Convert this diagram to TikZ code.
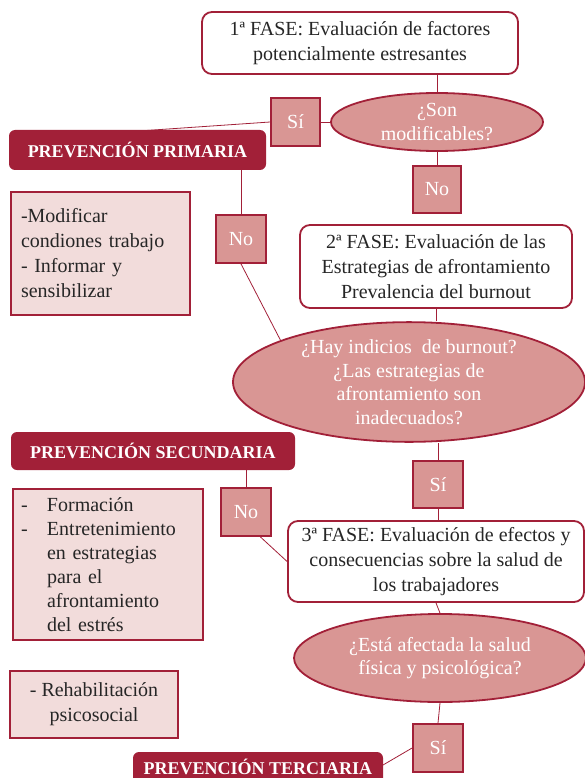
\documentclass[tikz,border=0pt]{standalone}
\usepackage{fontspec}
\setmainfont{Liberation Serif}
\usetikzlibrary{shapes.geometric,backgrounds}
\definecolor{dred}{RGB}{162,32,56}
\definecolor{efill}{RGB}{217,150,148}
\definecolor{pinkf}{RGB}{242,220,219}
\definecolor{txt}{RGB}{38,38,38}
\newcommand{\bodyfont}{\fontsize{20}{25}\selectfont}
\newcommand{\qfont}{\fontsize{20}{23.5}\selectfont}
\newcommand{\prevfont}{\fontsize{18}{20}\selectfont\bfseries}
\newcommand{\dashitem}{\makebox[26pt][l]{-}}
\begin{document}
\begin{tikzpicture}[x=1pt,y=-1pt,
  fase/.style={rectangle,draw=dred,line width=1.8pt,rounded corners=10pt,fill=white,text=txt,align=center,inner sep=0pt,font=\bodyfont},
  quest/.style={ellipse,draw=dred,line width=1.8pt,fill=efill,text=white,align=center,inner sep=0pt,font=\qfont},
  yn/.style={rectangle,draw=dred,line width=1.8pt,fill=efill,text=white,inner sep=0pt,font=\bodyfont},
  prev/.style={rectangle,fill=dred,rounded corners=6pt,text=white,inner sep=0pt,font=\prevfont},
  act/.style={rectangle,draw=dred,line width=1.5pt,fill=pinkf,text=txt,inner sep=0pt,font=\bodyfont},
  conn/.style={draw=dred,line width=0.8pt}]
\useasboundingbox (0,0) rectangle (585,778);

\node[fase,minimum width=316pt,minimum height=62pt] (b1) at (360,43) {1ª FASE: Evaluación de factores\\potencialmente estresantes};
\node[quest,minimum width=212pt,minimum height=58pt] (e1) at (437,122) {¿Son\\modificables?};
\node[yn,minimum width=49pt,minimum height=48pt] (s1) at (295.5,122) {Sí};
\node[prev,minimum width=257pt,minimum height=40pt] (pp) at (137.5,150) {PREVENCIÓN PRIMARIA};
\node[yn,minimum width=48pt,minimum height=47pt] (n1) at (437,189.5) {No};
\node[act,minimum width=179pt,minimum height=123pt,text width=159pt,align=left] (a1) at (100.5,253.5) {-Modificar\\condiones trabajo\\- Informar y\\sensibilizar};
\node[yn,minimum width=50pt,minimum height=48pt] (n2) at (241,239) {No};
\node[fase,minimum width=272pt,minimum height=83pt] (b2) at (436,266.5) {2ª FASE: Evaluación de las\\Estrategias de afrontamiento\\Prevalencia del burnout};
\node[quest,minimum width=352pt,minimum height=110pt] (e2) at (409,382) {¿Hay indicios\ \ de burnout?\\¿Las estrategias de\\afrontamiento son\\inadecuados?};
\node[prev,minimum width=284pt,minimum height=38pt] (ps) at (153,451) {PREVENCIÓN SECUNDARIA};
\node[yn,minimum width=50pt,minimum height=47pt] (s2) at (438,484.5) {Sí};
\node[yn,minimum width=50pt,minimum height=48pt] (n3) at (246,512) {No};
\node[act,minimum width=190pt,minimum height=151pt,text width=174pt,align=left,font=\fontsize{20}{24}\selectfont] (a2) at (108,564.5) {\dashitem Formación\\\dashitem Entretenimiento\\\hspace*{26pt}en estrategias\\\hspace*{26pt}para el\\\hspace*{26pt}afrontamiento\\\hspace*{26pt}del estrés};
\node[fase,minimum width=296pt,minimum height=81pt] (b3) at (436,561.5) {3ª FASE: Evaluación de efectos y\\consecuencias sobre la salud de\\los trabajadores};
\node[quest,minimum width=292pt,minimum height=88pt] (e3) at (440,658) {¿Está afectada la salud\\física y psicológica?};
\node[act,minimum width=168pt,minimum height=67pt,align=center] (a3) at (94,704.5) {- Rehabilitación\\psicosocial};
\node[yn,minimum width=50pt,minimum height=48pt] (s3) at (438,748) {Sí};
\node[prev,minimum width=250pt,minimum height=38pt] (pt) at (258,771) {};
\node[text=white,font=\prevfont,inner sep=0pt] (ptt) at ([yshift=4pt]pt.center) {PREVENCIÓN TERCIARIA};

\coordinate (ppt) at (146,130.5);
\coordinate (ptr) at (383,765);
\begin{pgfonlayer}{background}
\draw[conn] (e1.north) -- (e1.north |- b1.south);
\draw[conn] (e1.west) -- (s1.east);
\draw[conn] (s1.west) -- (ppt);
\draw[conn] (e1.south) -- (n1.north);
\draw[conn] (n2.north) -- (n2.north |- pp.south);
\draw[conn] (n2.south) -- (e2.162);
\draw[conn] (b2.south) -- (b2.south |- e2.north);
\draw[conn] (s2.north) -- (s2.north |- e2.south);
\draw[conn] (s2.south) -- (s2.south |- b3.north);
\draw[conn] (n3.north) -- (n3.north |- ps.south);
\draw[conn] (n3.-60) -- (b3.west);
\draw[conn] (b3.south) -- (e3.north);
\draw[conn] (e3.south) -- (s3.north);
\draw[conn] (s3.west) -- (ptr);
\end{pgfonlayer}
\end{tikzpicture}
\end{document}
